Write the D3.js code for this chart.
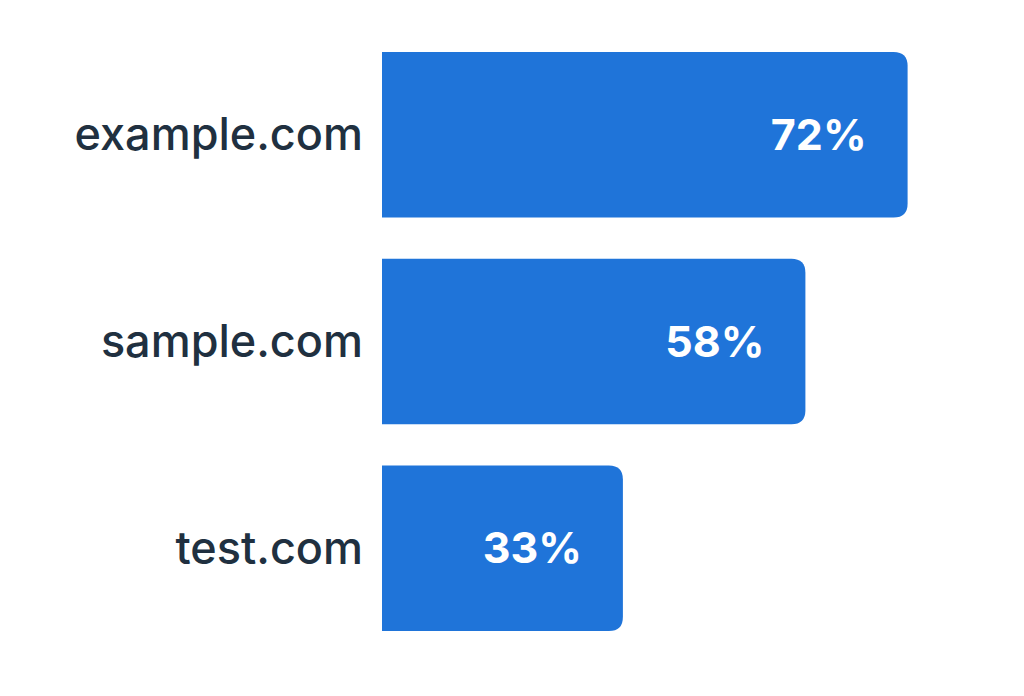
<!DOCTYPE html>
<meta charset="utf-8">
<style>
body { margin: 0; padding: 0; background: #fff; }
svg { display: block; }
.cat { font-family: Inter, "Noto Sans", sans-serif; font-size: 45px; font-weight: 500; fill: #203040; }
.val { font-family: Inter, "Noto Sans", sans-serif; font-size: 43px; font-weight: 700; fill: #fff; }
</style>
<body>
<svg id="chart" width="1024" height="696"></svg>
<script src="https://cdnjs.cloudflare.com/ajax/libs/d3/7.8.5/d3.min.js"></script>
<script>

var sites = ["example.com", "sample.com", "test.com"];
var shares = [72, 58, 33];

var svg = d3.select("#chart");

var x = d3.scaleLinear()
  .domain([0, 100])
  .range([382, 382 + 730]);

var y = d3.scaleBand()
  .domain(sites)
  .range([52, 631])
  .paddingInner(0.2)
  .paddingOuter(0);

var r = 14;

// bar with square left edge, rounded right corners
function barPath(x0, x1, y0, h) {
  return "M" + x0 + "," + y0 +
    "H" + (x1 - r) +
    "Q" + x1 + "," + y0 + " " + x1 + "," + (y0 + r) +
    "V" + (y0 + h - r) +
    "Q" + x1 + "," + (y0 + h) + " " + (x1 - r) + "," + (y0 + h) +
    "H" + x0 + "Z";
}

var rows = sites.map(function(s, i) { return { site: s, value: shares[i] }; });

svg.selectAll("path.bar")
  .data(rows)
  .enter().append("path")
  .attr("class", "bar")
  .attr("fill", "#1f74d9")
  .attr("d", function(d) {
    return barPath(x(0), x(d.value), y(d.site), y.bandwidth());
  });

svg.selectAll("text.cat")
  .data(rows)
  .enter().append("text")
  .attr("class", "cat")
  .attr("x", x(0) - 19)
  .attr("y", function(d) { return y(d.site) + y.bandwidth() / 2; })
  .attr("dy", "0.35em")
  .attr("text-anchor", "end")
  .text(function(d) { return d.site; });

svg.selectAll("text.val")
  .data(rows)
  .enter().append("text")
  .attr("class", "val")
  .attr("x", function(d) { return x(d.value) - 41; })
  .attr("y", function(d) { return y(d.site) + y.bandwidth() / 2; })
  .attr("dy", "0.35em")
  .attr("text-anchor", "end")
  .text(function(d) { return d.value + "%"; });

</script>
